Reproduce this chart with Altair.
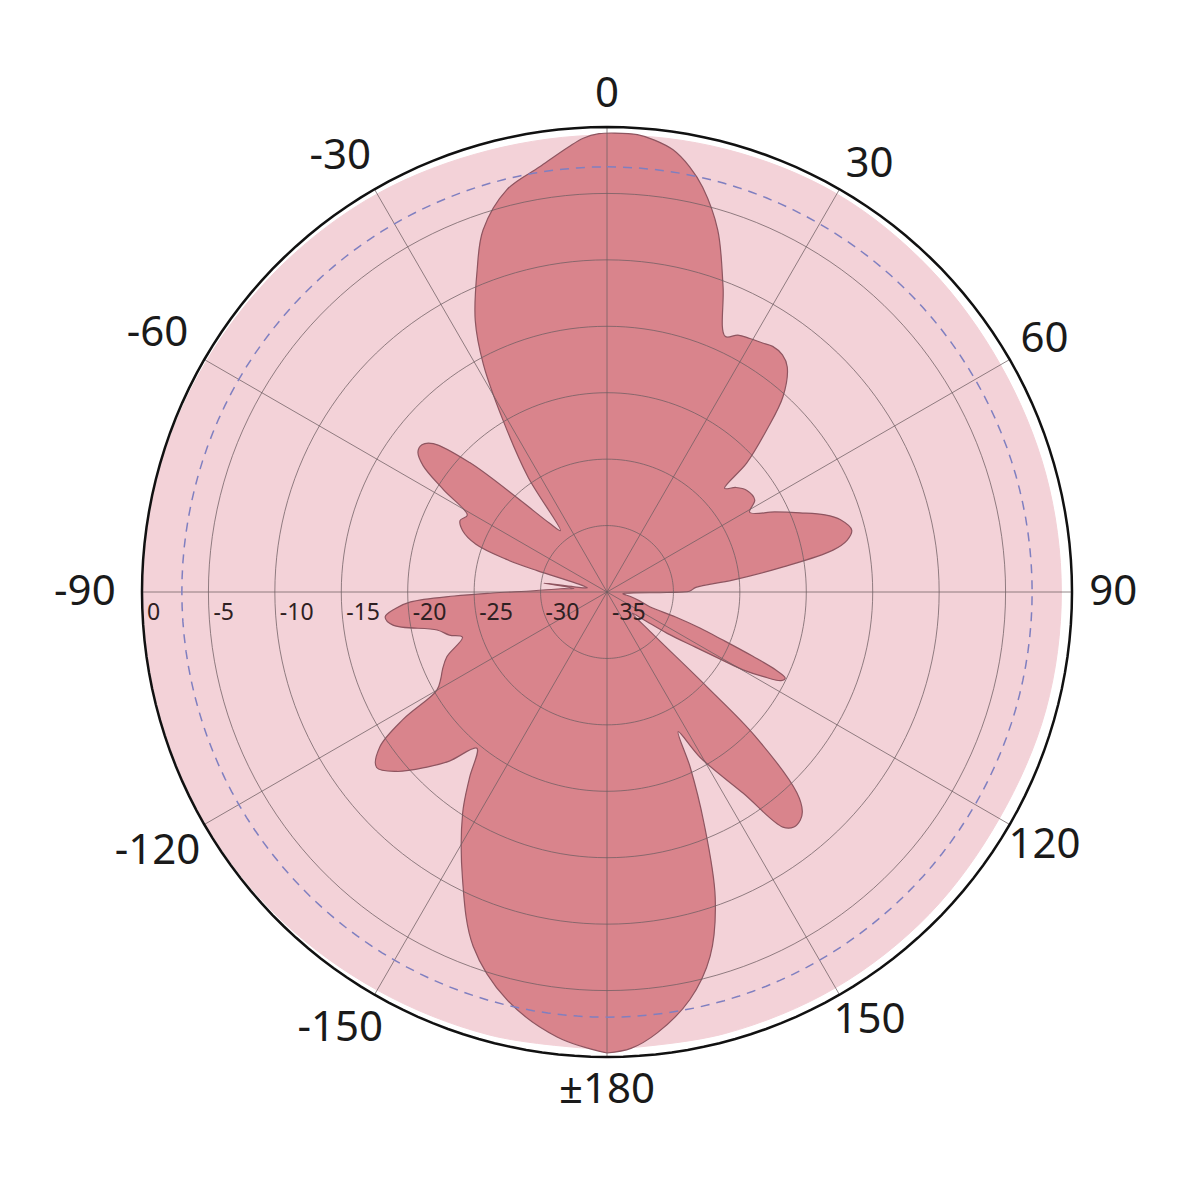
import altair as alt
import pandas as pd

# ---- data (angle in degrees clockwise from top, level in dB) ----
main_angle = [-180, -173.6, -166.2, -159.3, -153.3, -146.9, -143.5, -140.2, -137, -134.2,
              -130.5, -127.3, -124.3, -122, -120, -117.5, -115.3, -112, -107.4, -105.3,
              -102.6, -98.8, -96.4, -94.5, -92.9, -91.5, -90.5, -89, -86, -84,
              -82, -81, -78, -74, -73, -72, -70, -67, -64, -61.2,
              -58, -55.5, -53.5, -51.5, -49.5, -46.7, -43.4, -40, -37.2, -34.5,
              -31.2, -28.5, -25.9, -22, -18.9, -14, -9, -5, -3, -1,
              1, 3.8, 6, 8.5, 11, 13.3, 17, 20.8, 24.8, 27,
              29.4, 32, 34, 36.5, 38.7, 42, 44.6, 47.3, 48.6, 51,
              53.9, 58.1, 60.8, 64.5, 67.7, 70.5, 72.8, 75.8, 77.8, 79.5,
              81.9, 84.6, 87, 89.5, 90.5, 92, 96, 101, 105, 109,
              110, 111.2, 112.5, 113.8, 114.8, 115.8, 117, 118.4, 119.8, 120.6,
              122, 124.5, 127, 130, 132.5, 133.5, 134.2, 136.6, 138.3, 139.7,
              141.5, 143.2, 145.9, 150.6, 153, 154.6, 157.2, 160.5, 164.2, 168.5,
              173.5, 177, 180]
main_db = [-0.3, -1.3, -3.4, -6.5, -10.8, -15.1, -17.6, -19.7, -17.6, -16.1,
           -14.2, -13.2, -14.3, -16.9, -20.2, -20.9, -21.3, -22.0, -23.6, -22.7,
           -21.9, -18.7, -18.2, -19.0, -20.2, -23.5, -26.4, -29.5, -31.5, -32.5,
           -30.2, -32.5, -33.5, -32.5, -29.5, -27.0, -24.5, -23.2, -22.7, -23.0,
           -20.5, -18.2, -17.3, -17.2, -17.8, -20.8, -25.5, -28.2, -29.2, -24.5,
           -19.9, -15.5, -12.3, -8.9, -6.2, -3.8, -2.6, -1.4, -0.8, -0.5,
           -0.45, -0.5, -0.8, -1.35, -2.4, -3.7, -6.5, -10.4, -13.8, -13.3,
           -13.1, -12.9, -12.7, -12.8, -13.3, -15.2, -17.9, -20.7, -23.2, -22.5,
           -22.0, -21.9, -22.7, -21.0, -19.3, -17.6, -16.6, -16.0, -16.5, -17.7,
           -21.6, -25.5, -28.3, -28.8, -30.5, -33.0, -33.8, -33.2, -32.5, -31.6,
           -29.5, -27.5, -25.6, -23.0, -21.0, -20.1, -20.3, -21.6, -23.2, -25.0,
           -27.2, -29.5, -31.5, -32.5, -30.5, -24.6, -19.5, -14.2, -12.9, -12.5,
           -12.4, -12.9, -16.7, -20.7, -23.2, -20.4, -16.2, -10.6, -6.5, -3.7,
           -1.6, -0.6, -0.3]

outer_angle = [-180, -165, -150, -135, -120, -105, -90, -75, -60, -45, -30, -15,
               0, 15, 30, 45, 60, 75, 90, 105, 120, 135, 150, 165, 180]
outer_db = [-0.5, -0.5, -0.4, -0.2, -0.1, -0.1, -0.1, -0.1, -0.2, -0.3, -0.4, -0.6,
            -0.6, -0.5, -0.4, -0.6, -0.8, -0.8, -0.8, -0.8, -0.9, -0.7, -0.6, -0.6, -0.5]

grid_levels = [-5, -10, -15, -20, -25, -30]
dash_level = -3
outer_level = 0
spoke_angles = [0, 30, 60, 90, 120, 150, 180, 210, 240, 270, 300, 330]
angle_labels = ["0", "30", "60", "90", "120", "150", "±180", "-150", "-120", "-90", "-60", "-30"]
radial_values = [0, -5, -10, -15, -20, -25, -30, -35]
radial_labels = ["0", "-5", "-10", "-15", "-20", "-25", "-30", "-35"]

DB_MIN = -35
SPAN = 35

FONT = "Noto Sans"

xs = alt.Scale(domain=[-SPAN, SPAN], nice=False, zero=False)
ys = alt.Scale(domain=[-SPAN, SPAN], nice=False, zero=False)
X = alt.X("x:Q", scale=xs, axis=None)
Y = alt.Y("y:Q", scale=ys, axis=None)


def polar(ch):
    return ch.transform_calculate(
        r=f"datum.db - ({DB_MIN})"
    ).transform_calculate(
        x="datum.r * sin(datum.angle * PI / 180)",
        y="datum.r * cos(datum.angle * PI / 180)",
    )


outer_df = pd.DataFrame({"angle": outer_angle, "db": outer_db, "idx": range(len(outer_angle))})
main_df = pd.DataFrame({"angle": main_angle, "db": main_db, "idx": range(len(main_angle))})

outer_fill = polar(alt.Chart(outer_df)).mark_line(
    fill="#f3d2d8", stroke="#f3d2d8", strokeWidth=1, interpolate="cardinal-closed"
).encode(x=X, y=Y, order="idx:Q")

main_fill = polar(alt.Chart(main_df)).mark_line(
    fill="#d9848c", stroke="#8e5560", strokeWidth=1.2, interpolate="catmull-rom"
).encode(x=X, y=Y, order="idx:Q")

ring_steps = list(range(0, 361, 2))
rings_df = pd.DataFrame(
    [{"level": lv, "angle": a, "db": lv} for lv in grid_levels for a in ring_steps]
)
rings = polar(alt.Chart(rings_df)).mark_line(
    stroke="#6e5e62", strokeWidth=1, opacity=0.75
).encode(x=X, y=Y, detail="level:N", order="angle:Q")

dash_df = pd.DataFrame([{"angle": a, "db": dash_level} for a in ring_steps])
dash_ring = polar(alt.Chart(dash_df)).mark_line(
    stroke="#7f7fc0", strokeWidth=1.5, strokeDash=[9, 7]
).encode(x=X, y=Y, order="angle:Q")

outer_ring_df = pd.DataFrame([{"angle": a, "db": outer_level} for a in ring_steps])
outer_ring = polar(alt.Chart(outer_ring_df)).mark_line(
    stroke="#111111", strokeWidth=2.5
).encode(x=X, y=Y, order="angle:Q")

spokes_df = pd.DataFrame({"angle": spoke_angles})
spokes = alt.Chart(spokes_df).transform_calculate(
    x="0", y="0",
    x2=f"{SPAN} * sin(datum.angle * PI / 180)",
    y2=f"{SPAN} * cos(datum.angle * PI / 180)",
).mark_rule(stroke="#6e5e62", strokeWidth=1, opacity=0.75).encode(
    x=X, y=Y, x2="x2:Q", y2="y2:Q"
)

alabels_df = pd.DataFrame({"angle": spoke_angles, "label": angle_labels})
alabels = alt.Chart(alabels_df).transform_calculate(
    a0="datum.angle * PI / 180"
).transform_calculate(
    a1="datum.a0 + (abs(cos(datum.a0)) > 0.7 ? 0.03 * sin(2 * datum.a0) : 0)"
).transform_calculate(
    s="sin(datum.a1)", c="cos(datum.a1)"
).transform_calculate(
    lr="37.5 + 0.6 * abs(datum.s) + (datum.s < -0.1 ? -1.2 * datum.s : 0)"
).transform_calculate(
    x="datum.lr * datum.s",
    y="datum.lr * datum.c",
).mark_text(
    font=FONT, fontSize=42, color="#1a1a1a", align="center", baseline="middle"
).encode(x=X, y=Y, text="label:N")

rlabels_df = pd.DataFrame({"db": radial_values, "label": radial_labels})
rlabels = alt.Chart(rlabels_df).transform_calculate(
    x=f"-(datum.db - ({DB_MIN}))", y="0"
).mark_text(
    font=FONT, fontSize=23, color="#2e2022", align="left", baseline="middle", dx=5, dy=21
).encode(x=X, y=Y, text="label:N")

chart = alt.layer(
    outer_fill, main_fill, rings, spokes, dash_ring, outer_ring, alabels, rlabels
).properties(
    width=930, height=930, autosize="none",
    padding={"left": 134, "top": 119, "right": 120, "bottom": 120},
    background="white",
).configure_view(strokeWidth=0)

chart.save("out.html", embed_options={"renderer": "svg", "actions": False})
